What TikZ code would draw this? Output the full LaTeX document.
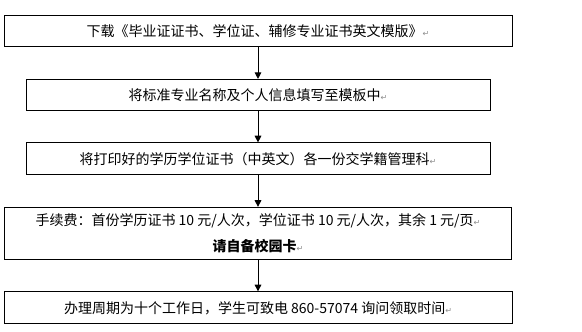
\documentclass[tikz,border=0pt]{standalone}
\usepackage{fontspec}
\setmainfont{Noto Sans CJK SC}
\newfontfamily\markfont{DejaVu Sans}
\usetikzlibrary{arrows.meta,positioning}
\newcommand{\parmark}{{\markfont\color{black!45}\fontsize{6pt}{6pt}\selectfont ↵}}

\begin{document}
\begin{tikzpicture}[
    node distance=23.6pt,
    every node/.style={font=\fontsize{10.5pt}{19pt}\selectfont},
    box/.style={draw, line width=0.75pt, align=center, inner sep=2pt},
    link/.style={-{Triangle[length=5pt, width=5pt]}, line width=0.75pt}
  ]
    \useasboundingbox (0,0) rectangle (436.5pt,-249pt);

    \node[box, minimum width=381pt, minimum height=23.25pt] (download) at (193.5pt,-23.6pt) {下载《毕业证证书、学位证、辅修专业证书英文模版》\parmark};
    \node[box, below=of download, minimum width=348pt, minimum height=23.25pt] (template) {将标准专业名称及个人信息填写至模板中\parmark};
    \node[box, below=of template, minimum width=348pt, minimum height=24pt] (submit) {将打印好的学历学位证书（中英文）各一份交学籍管理科\parmark};
    \node[box, below=of submit, minimum width=380pt, minimum height=39pt] (fee) {手续费：首份学历证书 10 元/人次，学位证书 10 元/人次，其余 1 元/页\parmark\\\textbf{请自备校园卡}\parmark};
    \node[box, below=of fee, minimum width=381pt, minimum height=24pt] (period) {办理周期为十个工作日，学生可致电 860-57074 询问领取时间\parmark};

    \draw[link] (download) -- (template);
    \draw[link] (template) -- (submit);
    \draw[link] (submit) -- (fee);
    \draw[link] (fee) -- (period);
  \end{tikzpicture}
\end{document}
